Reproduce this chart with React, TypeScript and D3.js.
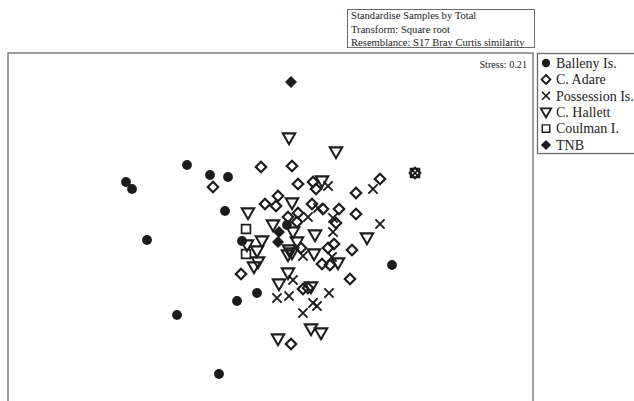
import React, { useEffect, useRef } from 'react';
import * as d3 from 'd3';

// MDS coordinates
const balleny: [number, number][] = [
    [-1.03, 0.65], [-0.80, 0.55], [-0.62, 0.53], [-1.64, 0.48], [-1.58, 0.41],
    [-0.65, 0.19], [-1.43, -0.10], [-0.48, -0.11], [-0.03, 0.05], [1.02, -0.35],
    [-0.33, -0.63], [-0.53, -0.71], [-1.13, -0.85], [-0.71, -1.44]
];
const adare: [number, number][] = [
    [-0.77, 0.43], [-0.29, 0.63], [0.02, 0.64], [0.08, 0.46], [0.23, 0.48],
    [0.26, 0.41], [0.90, 0.51], [0.66, 0.37], [-0.12, 0.34], [-0.25, 0.26],
    [-0.14, 0.24], [0.22, 0.26], [0.33, 0.21], [0.49, 0.21], [0.46, 0.07],
    [0.66, 0.16], [-0.02, 0.13], [0.08, 0.17], [0.07, 0.08], [0.11, -0.18],
    [0.38, -0.18], [0.44, -0.14], [0.62, -0.20], [0.32, -0.34], [0.40, -0.35],
    [-0.49, -0.44], [0.60, -0.49], [0.13, -0.59], [0.18, -0.58], [0.01, -1.14],
    [1.25, 0.57]
];
const possession: [number, number][] = [
    [0.38, 0.44], [0.83, 0.41], [0.28, 0.22], [0.43, 0.12], [0.90, 0.06],
    [0.18, 0.13], [0.43, -0.02], [0.13, -0.26], [0.42, -0.27], [0.03, -0.50],
    [0.39, -0.63], [-0.13, -0.68], [-0.01, -0.66], [0.23, -0.73], [0.27, -0.76],
    [0.13, -0.83], [1.25, 0.57]
];
const hallett: [number, number][] = [
    [-0.01, 0.92], [0.46, 0.78], [0.32, 0.49], [-0.42, 0.17], [0.02, 0.27],
    [-0.17, 0.05], [0.03, -0.02], [0.07, -0.12], [0.25, -0.05], [0.77, -0.08],
    [-0.43, -0.15], [-0.28, -0.11], [-0.33, -0.21], [-0.01, -0.20], [0.02, -0.23],
    [-0.02, -0.25], [0.24, -0.24], [-0.32, -0.32], [-0.36, -0.37], [0.48, -0.33],
    [-0.02, -0.43], [-0.11, -0.54], [0.21, -0.57], [0.21, -0.99], [0.31, -1.03],
    [-0.12, -1.09]
];
const coulman: [number, number][] = [[-0.44, 0.01], [-0.44, -0.24], [1.25, 0.57]];
const tnb: [number, number][] = [[0.01, 1.48], [-0.11, -0.02], [-0.12, -0.12]];

const groupNames = ['Balleny Is.', 'C. Adare', 'Possession Is.', 'C. Hallett', 'Coulman I.', 'TNB'];
const groupKinds = ['circle', 'diamond', 'cross', 'triangle', 'square', 'filledDiamond'];
const groupData = [balleny, adare, possession, hallett, coulman, tnb];

const infoLines = [
    'Standardise Samples by Total',
    'Transform: Square root',
    'Resemblance: S17 Bray Curtis similarity'
];
const stressLabel = 'Stress: 0.21';

const ink = '#1c1c1c';

function drawSymbol(g: d3.Selection<SVGGElement, unknown, null, undefined>, kind: string, x: number, y: number, s = 1) {
    const t = `translate(${x},${y}) scale(${s})`;
    if (kind === 'circle') {
        g.append('circle').attr('cx', x).attr('cy', y).attr('r', 4.9 * s).attr('fill', ink);
    } else if (kind === 'diamond') {
        g.append('path').attr('d', 'M0,-5.2L5.2,0L0,5.2L-5.2,0Z').attr('transform', t)
            .attr('fill', 'none').attr('stroke', ink).attr('stroke-width', 2.2);
    } else if (kind === 'filledDiamond') {
        g.append('path').attr('d', 'M0,-6L6,0L0,6L-6,0Z').attr('transform', t)
            .attr('fill', ink);
    } else if (kind === 'cross') {
        g.append('path').attr('d', 'M-4.6,-4.6L4.6,4.6M-4.6,4.6L4.6,-4.6').attr('transform', t)
            .attr('fill', 'none').attr('stroke', ink).attr('stroke-width', 1.9);
    } else if (kind === 'triangle') {
        g.append('path').attr('d', 'M-6.2,-4.6L6.2,-4.6L0,6.2Z').attr('transform', t)
            .attr('fill', 'none').attr('stroke', ink).attr('stroke-width', 2.1)
            .attr('stroke-linejoin', 'miter');
    } else if (kind === 'square') {
        g.append('path').attr('d', 'M-4.4,-4.4H4.4V4.4H-4.4Z').attr('transform', t)
            .attr('fill', 'none').attr('stroke', ink).attr('stroke-width', 1.7);
    }
}

const App: React.FC = () => {
    const svgRef = useRef<SVGSVGElement>(null);

    useEffect(() => {
        if (!svgRef.current) return;
        const svg = d3.select(svgRef.current);
        svg.selectAll('*').remove();

        const width = 634;
        const height = 401;
        const plot = { left: 8, top: 53, right: 533, bottom: 401 };

        const x = d3.scaleLinear().domain([-2.82, 2.43]).range([plot.left, plot.right]);
        const y = d3.scaleLinear().domain([1.77, -1.71]).range([plot.top, plot.bottom]);

        svg.append('rect').attr('width', width).attr('height', height).attr('fill', '#fff');

        // plot frame (bottom edge falls outside the picture)
        svg.append('rect')
            .attr('x', plot.left).attr('y', plot.top)
            .attr('width', plot.right - plot.left).attr('height', plot.bottom - plot.top + 10)
            .attr('fill', 'none').attr('stroke', '#6a6a6a').attr('stroke-width', 1.3);

        // info box
        svg.append('rect')
            .attr('x', 347.5).attr('y', 9.5).attr('width', 187).attr('height', 38)
            .attr('fill', '#fff').attr('stroke', '#6a6a6a').attr('stroke-width', 1);
        svg.append('g').selectAll('text').data(infoLines).enter().append('text')
            .attr('x', 351).attr('y', (_d, i) => 19 + i * 13.5)
            .attr('font-family', 'Liberation Serif, serif').attr('font-size', '10.6px')
            .attr('fill', '#222')
            .text(d => d);

        svg.append('text')
            .attr('x', 527).attr('y', 68).attr('text-anchor', 'end')
            .attr('font-family', 'Liberation Serif, serif').attr('font-size', '10.2px')
            .attr('fill', '#222')
            .text(stressLabel);

        // points
        const pts = svg.append('g');
        groupData.forEach((data, gi) => {
            data.forEach(d => drawSymbol(pts, groupKinds[gi], x(d[0]), y(d[1])));
        });

        // legend
        svg.append('rect')
            .attr('x', 537.5).attr('y', 53.5).attr('width', 100).attr('height', 100)
            .attr('fill', '#fff').attr('stroke', '#6a6a6a').attr('stroke-width', 1.3);
        const legend = svg.append('g');
        groupNames.forEach((name, i) => {
            const ly = 63 + i * 16.4;
            drawSymbol(legend, groupKinds[i], 546, ly, 0.85);
            legend.append('text')
                .attr('x', 556).attr('y', ly + 4.8)
                .attr('font-family', 'Liberation Serif, serif').attr('font-size', '14px')
                .attr('fill', '#222')
                .text(name);
        });
    }, []);

    return (
        <svg ref={svgRef} width={634} height={401}
            style={{ position: 'absolute', left: 0, top: 0, display: 'block' }} />
    );
};

export default App;
